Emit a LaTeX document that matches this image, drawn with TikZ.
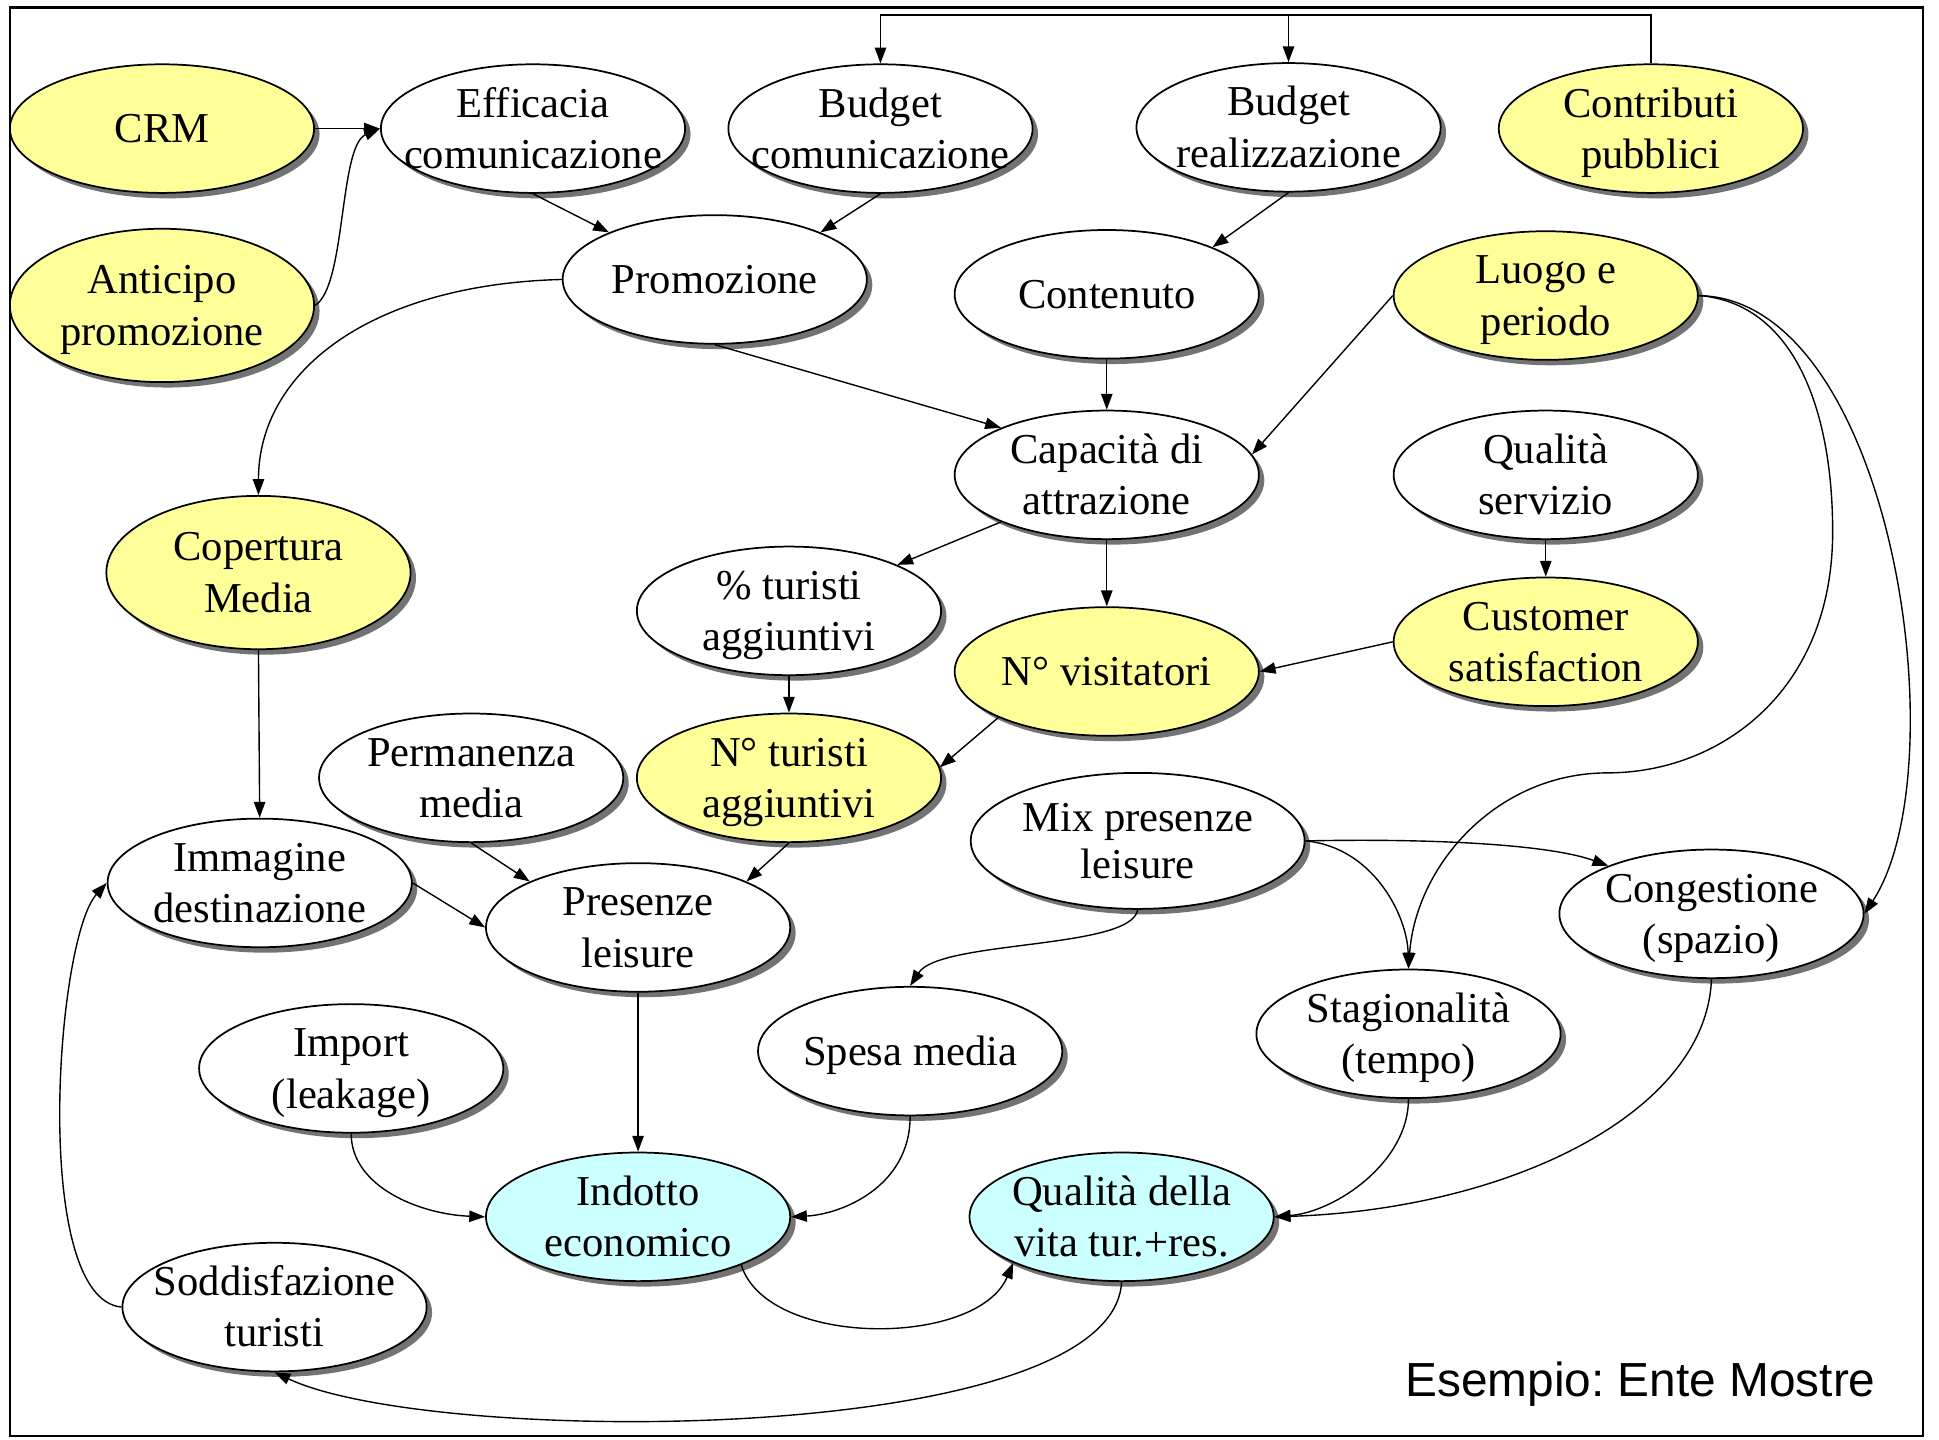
\documentclass[tikz,border=0pt]{standalone}
\usepackage{fontspec}
\setmainfont{Liberation Serif}
\newfontfamily\arialfont{Liberation Sans}
\usetikzlibrary{shapes.geometric,arrows.meta,shadows}
\definecolor{yelfill}{HTML}{FFFF99}
\definecolor{cyafill}{HTML}{CCFFFF}
\newcommand\topstrut{\vrule height 22pt depth 0pt width 0pt}
\newcommand\botstrut{\vrule height 0pt depth 5.8pt width 0pt}
\begin{document}
\begin{tikzpicture}[x=0.25mm,y=-0.25mm,
  lbl/.style={font=\fontsize{24.5}{29.5}\selectfont, align=center, inner sep=0pt},
  bub/.style={ellipse, draw=black, line width=1pt, inner sep=0pt,
    minimum width=61.5mm, minimum height=26mm, fill=white,
    drop shadow={shadow xshift=1.1mm, shadow yshift=-1.1mm, fill=black!55, opacity=1}},
  yel/.style={bub, fill=yelfill},
  cya/.style={bub, fill=cyafill},
  tall/.style={minimum height=31mm},
  t/.style={label={[lbl]center:\topstrut #1\botstrut}},
  conn/.style={line width=0.8pt, -{Triangle[length=3.2mm,width=2.3mm]}},
  plain/.style={line width=0.8pt}
]
\useasboundingbox (0,0) rectangle (1568,1164);
\draw[line width=1.3pt] (8,6) rectangle (1555,1161);

% nodes
\node[yel, t={CRM}] (crm) at (131,104) {};
\node[yel, tall, t={Anticipo\\promozione}] (ant) at (131,247) {};
\node[bub, t={Efficacia\\comunicazione}] (eff) at (431,104) {};
\node[bub, t={Budget\\comunicazione}] (bcom) at (712,104) {};
\node[bub, t={Budget\\realizzazione}] (breal) at (1042,103) {};
\node[yel, t={Contributi\\pubblici}] (contr) at (1335,104) {};
\node[bub, t={Promozione}] (promo) at (578,226) {};
\node[bub, t={Contenuto}] (cont) at (895,238) {};
\node[yel, t={Luogo e\\periodo}] (luogo) at (1250,239) {};
\node[bub, t={Capacità di\\attrazione}] (cap) at (895,384) {};
\node[bub, t={Qualità\\servizio}] (qs) at (1250,384) {};
\node[yel, tall, t={Copertura\\Media}] (cop) at (209,463) {};
\node[bub, t={\% turisti\\aggiuntivi}] (pct) at (638,494) {};
\node[yel, t={N° visitatori}] (nvis) at (895,543) {};
\node[yel, t={Customer\\satisfaction}] (cs) at (1250,519) {};
\node[bub, t={Permanenza\\media}] (perm) at (381,629) {};
\node[yel, t={N° turisti\\aggiuntivi}] (ntur) at (638,629) {};
\node[bub, minimum width=67.5mm, minimum height=27.5mm, label={[lbl,font=\fontsize{24.5}{27}\selectfont]center:\topstrut Mix presenze\\leisure\botstrut}] (mix) at (920,680) {};
\node[bub, t={Immagine\\destinazione}] (img) at (210,714) {};
\node[bub, t={Presenze\\leisure}] (pres) at (516,750) {};
\node[bub, t={Congestione\\(spazio)}] (cong) at (1384,739) {};
\node[bub, t={Stagionalità\\(tempo)}] (stag) at (1139,836) {};
\node[bub, t={Import\\(leakage)}] (imp) at (284,864) {};
\node[bub, t={Spesa media}] (spesa) at (736,850) {};
\node[cya, t={Indotto\\economico}] (ind) at (516,984) {};
\node[cya, t={Qualità della\\vita tur.+res.}] (qv) at (907,984) {};
\node[bub, t={Soddisfazione\\turisti}] (sodd) at (222,1057) {};

\node[font=\arialfont\fontsize{27.5}{32}\selectfont, anchor=base east, inner sep=0pt] (es) at (1517,1129) {\frenchspacing Esempio: Ente Mostre};

% connectors
\coordinate (top) at (0,12);
\draw[conn] (crm.east) -- (eff.west);
\draw[conn] (ant.east) .. controls (280,232) and (274,118) .. (eff.west);
\draw[conn] (eff.south) -- (promo.156);
\draw[conn] (bcom.south) -- (promo.24);
\draw[conn] (breal.south) -- (cont.24);
\draw[plain] (contr.north) -- (contr.north |- top) -- (bcom.north |- top);
\draw[conn] (bcom.north |- top) -- (bcom.north);
\draw[conn] (breal.north |- top) -- (breal.north);
\draw[conn] (promo.west) .. controls (300,230) and (209,300) .. (cop.north);
\draw[conn] (promo.south) -- (cap.156);
\draw[conn] (cont.south) -- (cap.north);
\draw[conn] (luogo.west) -- (cap.8);
\draw[conn] (luogo.east) .. controls (1530,242) and (1585,620) .. (cong.east);
\draw[conn] (luogo.east) .. controls (1450,245) and (1482,330) .. (1482,430)
  .. controls (1482,560) and (1390,625) .. (1300,625)
  .. controls (1210,625) and (1145,700) .. (stag.north);
\draw[conn] (cap.204) -- (pct.23);
\draw[conn] (cap.south) -- (nvis.north);
\draw[conn] (qs.south) -- (cs.north);
\draw[conn] (cs.west) -- (nvis.east);
\draw[conn] (cop.south) -- (img.north);
\draw[conn] (pct.south) -- (ntur.north);
\draw[conn] (nvis.203) -- (ntur.4);
\draw[conn] (perm.south) -- (pres.157);
\draw[conn] (ntur.south) -- (pres.23);
\draw[conn] (img.east) -- (pres.west);
\draw[conn] (mix.east) .. controls (1150,678) and (1250,682) .. (cong.155);
\draw[conn] (mix.east) .. controls (1110,685) and (1138,740) .. (stag.north);
\draw[conn] (mix.south) .. controls (915,768) and (760,760) .. (spesa.north);
\draw[conn] (pres.south) -- (ind.north);
\draw[conn] (imp.south) .. controls (284,960) and (340,982) .. (ind.west);
\draw[conn] (spesa.south) .. controls (736,960) and (680,982) .. (ind.east);
\draw[conn] (stag.south) .. controls (1139,940) and (1080,980) .. (qv.east);
\draw[conn] (cong.south) .. controls (1380,900) and (1220,978) .. (qv.east);
\draw[conn] (ind.-25) .. controls (620,1090) and (790,1090) .. (qv.203);
\draw[conn] (qv.south) .. controls (900,1170) and (350,1170) .. (sodd.south);
\draw[conn] (sodd.west) .. controls (25,1050) and (45,760) .. (img.west);
\end{tikzpicture}
\end{document}
